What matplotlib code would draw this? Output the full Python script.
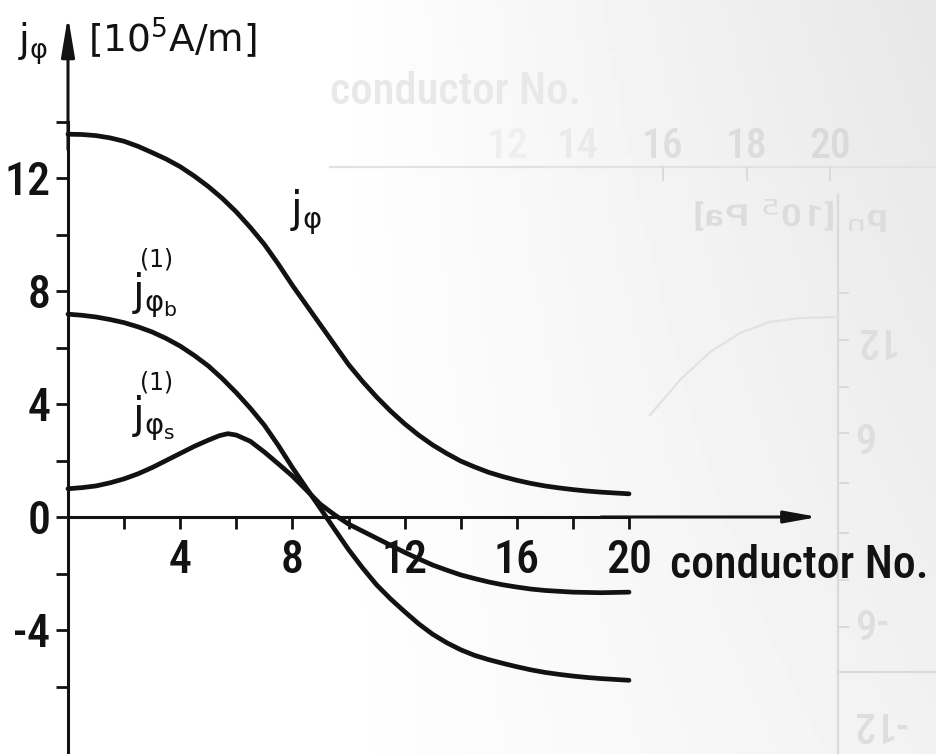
import numpy as np
import matplotlib.pyplot as plt
from matplotlib import font_manager as fm
from matplotlib.textpath import TextPath
from matplotlib.patches import PathPatch
from matplotlib.transforms import Affine2D

plt.rcParams['font.family'] = ['DejaVu Sans']
plt.rcParams['mathtext.fontset'] = 'custom'
plt.rcParams['mathtext.rm'] = 'DejaVu Sans'
plt.rcParams['mathtext.it'] = 'DejaVu Sans'
plt.rcParams['mathtext.bf'] = 'DejaVu Sans'
INK = '#121212'


def narrow_font():
    # a condensed face for the numbers, if one is installed
    wanted = ['Liberation Sans Narrow', 'Roboto Condensed', 'Open Sans Condensed',
              'Noto Sans Condensed', 'DejaVu Sans Condensed']
    fonts = [f for f in fm.fontManager.ttflist if f.style == 'normal']
    for name in wanted:
        for weight in (500, 400):
            for f in fonts:
                if f.name == name and f.weight == weight:
                    return fm.FontProperties(fname=f.fname), True
    for f in fonts:
        if str(f.stretch) in ('condensed', 'semi-condensed') and f.weight in (400, 500):
            return fm.FontProperties(fname=f.fname), True
    return fm.FontProperties(family='Liberation Sans'), False


NARROW, IS_NARROW = narrow_font()


def nfont(size):
    fp = NARROW.copy()
    fp.set_size(size)
    return fp


# conductor number along the slot
cond = [0, 0.5, 1, 1.5, 2, 2.5, 3, 3.5, 4, 4.5, 5, 5.5, 6, 6.5, 7, 7.5, 8, 8.5,
        9, 9.5, 10, 10.5, 11, 11.5, 12, 12.5, 13, 13.5, 14, 14.5, 15, 15.5,
        16, 16.5, 17, 17.5, 18, 18.5, 19, 19.5, 20]
# total current density [10^5 A/m]
j_phi = [13.55, 13.54, 13.5, 13.42, 13.3, 13.12, 12.9, 12.67, 12.4, 12.07,
         11.7, 11.28, 10.8, 10.25, 9.65, 8.95, 8.2, 7.5, 6.8, 6.1, 5.4, 4.8,
         4.25, 3.75, 3.3, 2.9, 2.55, 2.25, 1.98, 1.77, 1.58, 1.43, 1.3, 1.19,
         1.1, 1.03, 0.97, 0.92, 0.88, 0.85, 0.82]
# first harmonic, b-component
j_b = [7.18, 7.14, 7.08, 6.99, 6.88, 6.73, 6.55, 6.32, 6.05, 5.72, 5.35,
       4.9, 4.4, 3.85, 3.25, 2.53, 1.75, 1.02, 0.3, -0.43, -1.15, -1.8, -2.4,
       -2.9, -3.35, -3.78, -4.15, -4.45, -4.7, -4.9, -5.05, -5.18, -5.3,
       -5.41, -5.5, -5.57, -5.63, -5.68, -5.72, -5.75, -5.78]
# first harmonic, s-component
cond_s = [0, 0.5, 1, 1.5, 2, 2.5, 3, 3.5, 4, 4.5, 5, 5.4, 5.7, 6, 6.5, 7,
          7.5, 8, 8.5, 9, 9.5, 10, 10.5, 11, 11.5, 12, 12.5, 13, 13.5, 14,
          14.5, 15, 15.5, 16, 16.5, 17, 17.5, 18, 18.5, 19, 19.5, 20]
j_s = [1.0, 1.04, 1.1, 1.21, 1.35, 1.53, 1.75, 2.0, 2.25, 2.5, 2.72, 2.88,
       2.95, 2.9, 2.68, 2.3, 1.88, 1.45, 0.95, 0.45, 0.08, -0.25, -0.5,
       -0.75, -1.0, -1.25, -1.48, -1.7, -1.88, -2.05, -2.18, -2.3, -2.4,
       -2.48, -2.55, -2.6, -2.63, -2.66, -2.67, -2.68, -2.67, -2.66]

x_major = [4, 8, 12, 16, 20]
x_minor = [2, 6, 10, 14, 18]
y_major = [-4, 0, 4, 8, 12]
y_minor = [-6, -2, 2, 6, 10, 14]
y_labels = ['-4', '0', '4', '8', '12']

fig = plt.figure(figsize=(9.36, 7.54), dpi=100)

# back layer: paper shading and the page showing through (pixel units)
bg = fig.add_axes([0, 0, 1, 1], zorder=0)
bg.set_xlim(0, 936)
bg.set_ylim(754, 0)
bg.axis('off')
gx, gy = np.meshgrid(np.linspace(0, 1, 200), np.linspace(0, 1, 160))
shade = 1 - 0.095 * np.clip((gx - 0.35) / 0.65, 0, 1) * (1 - 0.45 * gy)
bg.imshow(shade, cmap='gray', vmin=0, vmax=1, extent=(0, 936, 754, 0),
          aspect='auto', zorder=0)
ghost = '#dadada'
bg.plot([330, 936], [167, 167], color='#e2e2e2', lw=1.6, zorder=1)
bg.plot([838, 838], [195, 754], color=ghost, lw=1.6, zorder=1)
bg.plot([838, 936], [672, 672], color=ghost, lw=1.6, zorder=1)
for tx in [663, 747, 830]:
    bg.plot([tx, tx], [167, 180], color=ghost, lw=1.4, zorder=1)
for ty in [293, 340, 387, 433, 483, 533, 580, 627]:
    bg.plot([838, 848], [ty, ty], color=ghost, lw=1.4, zorder=1)
bg.plot([838, 800, 770, 740, 710, 680, 650],
        [317, 318, 322, 333, 352, 380, 415], color='#e2e2e2', lw=1.6, zorder=1)
ghost_cols = ['#efefef', '#eaeaea', '#dedede', '#dcdcdc', '#dadada']
for lab, tx, c in zip(['12', '14', '16', '18', '20'], [508, 578, 663, 747, 830],
                      ghost_cols):
    bg.text(tx, 147, lab, color=c, ha='center', va='center',
            fontproperties=nfont(30), zorder=1)
bg.text(455, 92, 'conductor No.', color='#e8e8e8', ha='center', va='center',
        fontproperties=nfont(32), zorder=1)
for lab, ty in zip(['12', '6', '-6', '-12'], [340, 433, 620, 723]):
    bg.text(852, ty, lab, color='#dedede', ha='left', va='center',
            rotation=180, fontproperties=nfont(30), zorder=1)
tp = TextPath((0, 0), r'p$_n$ [10$^5$ Pa]', size=30, prop=NARROW)
mirror = Affine2D().scale(-190 / tp.get_extents().width, -1).translate(888, 226)
bg.add_patch(PathPatch(mirror.transform_path(tp), color='#dcdcdc', lw=0, zorder=1))

# main chart, 0 of both axes at the origin of the drawing
ax = fig.add_axes([0, 0, 1, 1], zorder=2)
ax.patch.set_alpha(0)
ax.set_xlim(-68 / 28.05, (936 - 68) / 28.05)
ax.set_ylim(-237 / 28.25, 517 / 28.25)

for sp in ['top', 'right']:
    ax.spines[sp].set_visible(False)
ax.spines['left'].set_position(('data', 0))
ax.spines['bottom'].set_position(('data', 0))
ax.spines['left'].set_bounds(-8.4, 14)
ax.spines['bottom'].set_bounds(0, 20)
for sp in ['left', 'bottom']:
    ax.spines[sp].set_linewidth(2.2)
    ax.spines[sp].set_color(INK)

ax.annotate('', xy=(26.74, 0), xytext=(19, 0),
            arrowprops=dict(arrowstyle='-|>,head_length=1.0,head_width=0.18',
                            mutation_scale=20, lw=2.2, color=INK,
                            shrinkA=0, shrinkB=0))
ax.annotate('', xy=(0, 17.73), xytext=(0, 13),
            arrowprops=dict(arrowstyle='-|>,head_length=1.2,head_width=0.2',
                            mutation_scale=20, lw=2.2, color=INK,
                            shrinkA=0, shrinkB=0))

ax.set_xticks(x_major)
ax.set_xticks(x_minor, minor=True)
ax.set_yticks(y_major)
ax.set_yticks(y_minor, minor=True)
ax.set_xticklabels([str(v) for v in x_major])
ax.set_yticklabels(y_labels)
ax.tick_params(axis='both', which='both', direction='out', length=8.6,
               width=2.0, color=INK, labelcolor=INK)
ax.tick_params(axis='x', pad=7)
ax.tick_params(axis='y', pad=4)
tick_size = 33 if IS_NARROW else 30
for lbl in ax.get_xticklabels() + ax.get_yticklabels():
    lbl.set_fontproperties(nfont(tick_size))

lw = 3.4
for xs, ys in [(cond, j_phi), (cond, j_b), (cond_s, j_s)]:
    ax.plot(xs, ys, color=INK, lw=lw, solid_joinstyle='round',
            solid_capstyle='round')

# labels
ax.text(-1.78, 16.44, r'j$_{φ}$', fontsize=28, color=INK, va='baseline')
ax.text(0.71, 16.47, r'[10$^5$A/m]', fontsize=27, color=INK, va='baseline')
xl = ax.text(21.46, -2.16, 'conductor No.', color=INK, va='baseline',
             fontproperties=nfont(36))
ax.text(7.91, 10.44, r'j$_{φ}$', fontsize=30, color=INK, va='baseline')
ax.text(2.57, 8.85, '(1)', fontsize=17, color=INK, va='baseline')
ax.text(2.28, 7.5, r'j$_{φ_b}$', fontsize=30, color=INK, va='baseline')
ax.text(2.57, 4.5, '(1)', fontsize=17, color=INK, va='baseline')
ax.text(2.28, 3.15, r'j$_{φ_s}$', fontsize=30, color=INK, va='baseline')

# the axis title has to fit between x = 670 and x = 930 px
fig.canvas.draw()
w = xl.get_window_extent().width
xl.set_fontproperties(nfont(36 * min(1.0, 258 / w)))

fig.savefig('out.png', dpi=100)
